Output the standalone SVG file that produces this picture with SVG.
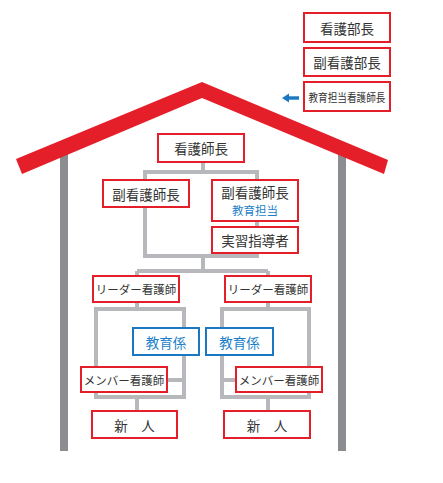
<svg xmlns="http://www.w3.org/2000/svg" width="443" height="483" viewBox="0 0 443 483">
<style>
.r{fill:#fff;stroke:#e51f2a;stroke-width:2}
.b{fill:#fff;stroke:#1a78c2;stroke-width:2}
.t{font-family:"Noto Sans CJK JP","Noto Sans",sans-serif;fill:#333;text-anchor:middle;dominant-baseline:central}
.bt{fill:#1a7fc8}
.c{fill:none;stroke:#b7b8bb;stroke-width:4}
.w{fill:#8c8d91}
</style>
<rect width="443" height="483" fill="#fff"/>
<g id="walls">
<rect class="w" x="60" y="150" width="8" height="301"/>
<rect class="w" x="338" y="150" width="8" height="301"/>
</g>
<polygon id="roof" points="16,159 202,82 388,160 384,174 202,98 22,174" fill="#e51f2a"/>
<g id="arrow" fill="#1a78c2">
<polygon points="282,98 289,93.5 289,102.5"/>
<rect x="288" y="96.3" width="11" height="3.4"/>
</g>
<g id="connectors" class="c">
<path d="M203,162V172"/>
<rect x="145" y="172" width="112" height="84"/>
<path d="M203,256V271M137,271H268M137,271V276M268,271V276"/>
<path d="M137,302V309"/>
<rect x="96" y="309" width="88" height="88"/>
<path d="M167,380H184M137,397V411"/>
<path d="M268,302V309"/>
<rect x="222" y="309" width="87" height="88"/>
<path d="M222,380H236M268,397V411"/>
</g>
<g id="n-kangobucho"><rect class="r" x="304" y="13" width="86" height="29"/><text class="t" x="347" y="27.5" font-size="13.5">看護部長</text></g>
<g id="n-fukukangobucho"><rect class="r" x="304" y="48" width="86" height="28"/><text class="t" x="347" y="62" font-size="13.5">副看護部長</text></g>
<g id="n-kyoikutanto"><rect class="r" x="304" y="82" width="86" height="29"/><text class="t" x="347" y="96.5" font-size="11" textLength="77" lengthAdjust="spacingAndGlyphs">教育担当看護師長</text></g>
<g id="n-kangoshicho"><rect class="r" x="158" y="134" width="86" height="28"/><text class="t" x="201" y="148" font-size="13.5">看護師長</text></g>
<g id="n-fuku1"><rect class="r" x="103" y="180" width="86" height="27"/><text class="t" x="146" y="193.5" font-size="13.5">副看護師長</text></g>
<g id="n-fuku2"><rect class="r" x="212" y="180" width="86" height="41"/><text class="t" x="255" y="192" font-size="13.5">副看護師長</text><text class="t bt" x="255" y="210" font-size="11.5">教育担当</text></g>
<g id="n-jisshu"><rect class="r" x="212" y="227" width="86" height="26"/><text class="t" x="255" y="240" font-size="13.5">実習指導者</text></g>
<g id="n-leader1"><rect class="r" x="93" y="276" width="86" height="26"/><text class="t" x="136" y="289" font-size="11.5">リーダー看護師</text></g>
<g id="n-leader2"><rect class="r" x="225" y="276" width="86" height="26"/><text class="t" x="268" y="289" font-size="11.5">リーダー看護師</text></g>
<g id="n-kyoiku1"><rect class="b" x="133" y="328" width="66" height="27"/><text class="t bt" x="166" y="341.5" font-size="13.5">教育係</text></g>
<g id="n-kyoiku2"><rect class="b" x="206" y="328" width="67" height="27"/><text class="t bt" x="239.5" y="341.5" font-size="13.5">教育係</text></g>
<g id="n-member1"><rect class="r" x="81" y="367" width="86" height="25"/><text class="t" x="124" y="379.5" font-size="11.5">メンバー看護師</text></g>
<g id="n-member2"><rect class="r" x="236" y="367" width="86" height="25"/><text class="t" x="279" y="379.5" font-size="11.5">メンバー看護師</text></g>
<g id="n-shinjin1"><rect class="r" x="92" y="411" width="85" height="27"/><text class="t" x="134.5" y="424.5" font-size="13.5">新　人</text></g>
<g id="n-shinjin2"><rect class="r" x="224" y="411" width="86" height="27"/><text class="t" x="267" y="424.5" font-size="13.5">新　人</text></g>
</svg>
